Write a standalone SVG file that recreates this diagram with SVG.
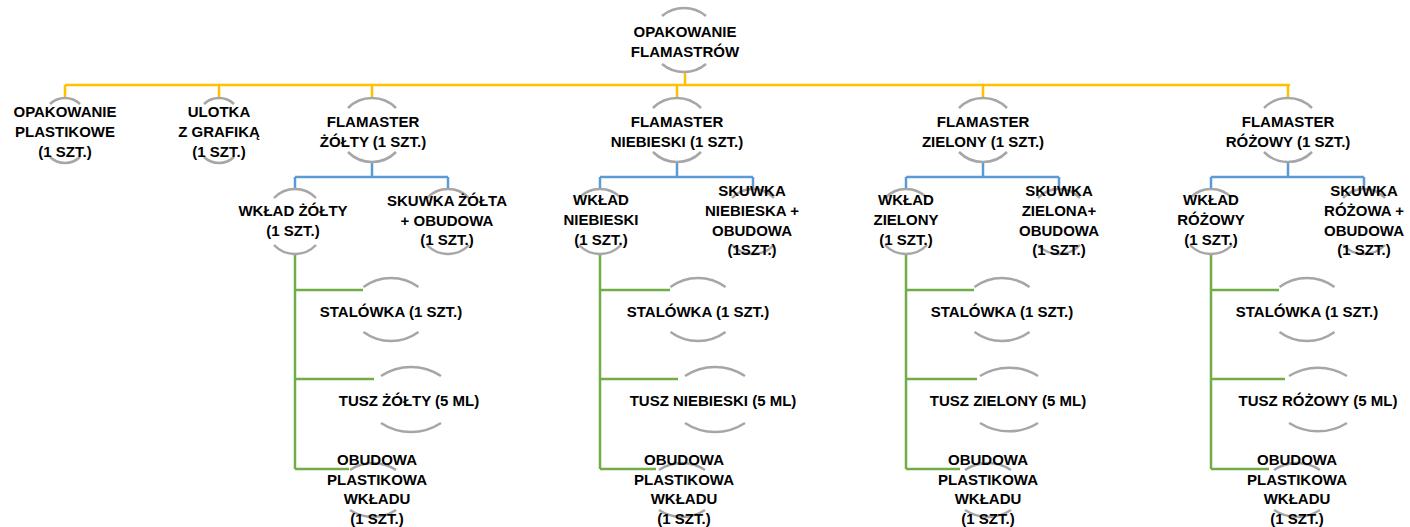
<svg xmlns="http://www.w3.org/2000/svg" width="1410" height="527" viewBox="0 0 1410 527">
<style>
text{font-family:"Liberation Sans",Arial,sans-serif;font-weight:bold;font-size:15px;fill:#000;text-anchor:middle}
.arc{fill:none;stroke:#A6A6A6;stroke-width:2.5}
.y{fill:none;stroke:#FFC000;stroke-width:2.5}
.b{fill:none;stroke:#5B9BD5;stroke-width:2.5}
.g{fill:none;stroke:#70AD47;stroke-width:2.5}
</style>
<rect width="1410" height="527" fill="#fff"/>
<g id="connectors">
<path class="y" d="M685 72V85M65 85H1290M65 85V98M219 85V98M372 85V98M677 85V98M983 85V98M1288 85V98"/>
<path class="b" d="M372 162V177M295 177H448M295 177V189M448 177V189"/>
<path class="b" d="M677 162V177M600 177H753M600 177V189M753 177V189"/>
<path class="b" d="M983 162V177M906 177H1059M906 177V189M1059 177V189"/>
<path class="b" d="M1288 162V177M1211 177H1364M1211 177V189M1364 177V189"/>
<path class="g" d="M295 254V469M295 290H363M295 379H374M295 469H349"/>
<path class="g" d="M600 254V469M600 290H670M600 379H678M600 469H656"/>
<path class="g" d="M906 254V469M906 290H974M906 379H977M906 469H960"/>
<path class="g" d="M1211 254V469M1211 290H1279M1211 379H1285M1211 469H1269"/>
</g>
<g id="root">
<path class="arc" d="M662 16A34.25 34.25 0 0 1 706 16M662 64A34.25 34.25 0 0 0 706 64"/>
<text x="685" y="37">OPAKOWANIE</text><text x="685" y="57">FLAMASTRÓW</text>
</g>
<g id="opakowanie-plastikowe">
<path class="arc" d="M50 104A21.75 21.75 0 0 1 80 104M50 157A21.75 21.75 0 0 0 80 157"/>
<text x="65" y="117">OPAKOWANIE</text><text x="65" y="137">PLASTIKOWE</text><text x="65" y="157">(1 SZT.)</text>
</g>
<g id="ulotka">
<path class="arc" d="M204 104A21.75 21.75 0 0 1 234 104M204 157A21.75 21.75 0 0 0 234 157"/>
<text x="219" y="117">ULOTKA</text><text x="219" y="137">Z GRAFIKĄ</text><text x="219" y="157">(1 SZT.)</text>
</g>
<g id="flamaster-zolty">
<path class="arc" d="M348 108A33.8 33.8 0 0 1 396 108M348 152A33.8 33.8 0 0 0 396 152"/>
<text x="373" y="127">FLAMASTER</text><text x="373" y="147">ŻÓŁTY (1 SZT.)</text>
</g>
<g id="flamaster-niebieski">
<path class="arc" d="M653 108A33.8 33.8 0 0 1 701 108M653 152A33.8 33.8 0 0 0 701 152"/>
<text x="677" y="127">FLAMASTER</text><text x="677" y="147">NIEBIESKI (1 SZT.)</text>
</g>
<g id="flamaster-zielony">
<path class="arc" d="M959 108A33.8 33.8 0 0 1 1007 108M959 152A33.8 33.8 0 0 0 1007 152"/>
<text x="983" y="127">FLAMASTER</text><text x="983" y="147">ZIELONY (1 SZT.)</text>
</g>
<g id="flamaster-rozowy">
<path class="arc" d="M1264 108A33.8 33.8 0 0 1 1312 108M1264 152A33.8 33.8 0 0 0 1312 152"/>
<text x="1288" y="127">FLAMASTER</text><text x="1288" y="147">RÓŻOWY (1 SZT.)</text>
</g>
<g id="wklad-zolty">
<path class="arc" d="M274 198A29 29 0 0 1 316 198M274 245A29 29 0 0 0 316 245"/>
<text x="293" y="216">WKŁAD ŻÓŁTY</text><text x="293" y="236">(1 SZT.)</text>
</g>
<g id="skuwka-zolta">
<path class="arc" d="M427 198A29 29 0 0 1 469 198M427 245A29 29 0 0 0 469 245"/>
<text x="447" y="206">SKUWKA ŻÓŁTA</text><text x="447" y="226">+ OBUDOWA</text><text x="447" y="245">(1 SZT.)</text>
</g>
<g id="wklad-niebieski">
<path class="arc" d="M579 198A29 29 0 0 1 621 198M579 245A29 29 0 0 0 621 245"/>
<text x="601" y="205">WKŁAD</text><text x="601" y="225">NIEBIESKI</text><text x="601" y="245">(1 SZT.)</text>
</g>
<g id="skuwka-niebieska">
<path class="arc" d="M732 198A29 29 0 0 1 774 198M732 245A29 29 0 0 0 774 245"/>
<text x="752" y="196">SKUWKA</text><text x="752" y="216">NIEBIESKA +</text><text x="752" y="236">OBUDOWA</text><text x="752" y="255">(1SZT.)</text>
</g>
<g id="wklad-zielony">
<path class="arc" d="M885 198A29 29 0 0 1 927 198M885 245A29 29 0 0 0 927 245"/>
<text x="906" y="205">WKŁAD</text><text x="906" y="225">ZIELONY</text><text x="906" y="245">(1 SZT.)</text>
</g>
<g id="skuwka-zielona">
<path class="arc" d="M1038 198A29 29 0 0 1 1080 198M1038 245A29 29 0 0 0 1080 245"/>
<text x="1059" y="196">SKUWKA</text><text x="1059" y="216">ZIELONA+</text><text x="1059" y="236">OBUDOWA</text><text x="1059" y="255">(1 SZT.)</text>
</g>
<g id="wklad-rozowy">
<path class="arc" d="M1190 198A29 29 0 0 1 1232 198M1190 245A29 29 0 0 0 1232 245"/>
<text x="1211" y="205">WKŁAD</text><text x="1211" y="225">RÓŻOWY</text><text x="1211" y="245">(1 SZT.)</text>
</g>
<g id="skuwka-rozowa">
<path class="arc" d="M1343 198A29 29 0 0 1 1385 198M1343 245A29 29 0 0 0 1385 245"/>
<text x="1364" y="196">SKUWKA</text><text x="1364" y="216">RÓŻOWA +</text><text x="1364" y="236">OBUDOWA</text><text x="1364" y="255">(1 SZT.)</text>
</g>
<g id="stalowka-zolty">
<path class="arc" d="M363.5 287A46.5 46.5 0 0 1 418.5 287M363.5 332A46.5 46.5 0 0 0 418.5 332"/>
<text x="391" y="317">STALÓWKA (1 SZT.)</text>
</g>
<g id="tusz-zolty">
<path class="arc" d="M381 376A54.5 54.5 0 0 1 441 376M381 423A54.5 54.5 0 0 0 441 423"/>
<text x="409" y="406">TUSZ ŻÓŁTY (5 ML)</text>
</g>
<g id="obudowa-zolty">
<path class="arc" d="M350 470A41.3 41.3 0 0 1 396 470M350 510A41.3 41.3 0 0 0 396 510"/>
<text x="377" y="465">OBUDOWA</text><text x="377" y="485">PLASTIKOWA</text><text x="377" y="504">WKŁADU</text><text x="377" y="524">(1 SZT.)</text>
</g>
<g id="stalowka-niebieski">
<path class="arc" d="M670.5 287A46.5 46.5 0 0 1 725.5 287M670.5 332A46.5 46.5 0 0 0 725.5 332"/>
<text x="698" y="317">STALÓWKA (1 SZT.)</text>
</g>
<g id="tusz-niebieski">
<path class="arc" d="M685 376A54.5 54.5 0 0 1 745 376M685 423A54.5 54.5 0 0 0 745 423"/>
<text x="713" y="406">TUSZ NIEBIESKI (5 ML)</text>
</g>
<g id="obudowa-niebieski">
<path class="arc" d="M659 470A41.3 41.3 0 0 1 705 470M659 510A41.3 41.3 0 0 0 705 510"/>
<text x="684" y="465">OBUDOWA</text><text x="684" y="485">PLASTIKOWA</text><text x="684" y="504">WKŁADU</text><text x="684" y="524">(1 SZT.)</text>
</g>
<g id="stalowka-zielony">
<path class="arc" d="M974.5 287A46.5 46.5 0 0 1 1029.5 287M974.5 332A46.5 46.5 0 0 0 1029.5 332"/>
<text x="1002" y="317">STALÓWKA (1 SZT.)</text>
</g>
<g id="tusz-zielony">
<path class="arc" d="M980 376A54.5 54.5 0 0 1 1038 376M980 423A54.5 54.5 0 0 0 1038 423"/>
<text x="1008" y="406">TUSZ ZIELONY (5 ML)</text>
</g>
<g id="obudowa-zielony">
<path class="arc" d="M965 470A41.3 41.3 0 0 1 1011 470M965 510A41.3 41.3 0 0 0 1011 510"/>
<text x="988" y="465">OBUDOWA</text><text x="988" y="485">PLASTIKOWA</text><text x="988" y="504">WKŁADU</text><text x="988" y="524">(1 SZT.)</text>
</g>
<g id="stalowka-rozowy">
<path class="arc" d="M1279.5 287A46.5 46.5 0 0 1 1334.5 287M1279.5 332A46.5 46.5 0 0 0 1334.5 332"/>
<text x="1307" y="317">STALÓWKA (1 SZT.)</text>
</g>
<g id="tusz-rozowy">
<path class="arc" d="M1289 376A54.5 54.5 0 0 1 1347 376M1289 423A54.5 54.5 0 0 0 1347 423"/>
<text x="1318" y="406">TUSZ RÓŻOWY (5 ML)</text>
</g>
<g id="obudowa-rozowy">
<path class="arc" d="M1274 470A41.3 41.3 0 0 1 1320 470M1274 510A41.3 41.3 0 0 0 1320 510"/>
<text x="1297" y="465">OBUDOWA</text><text x="1297" y="485">PLASTIKOWA</text><text x="1297" y="504">WKŁADU</text><text x="1297" y="524">(1 SZT.)</text>
</g>
</svg>
